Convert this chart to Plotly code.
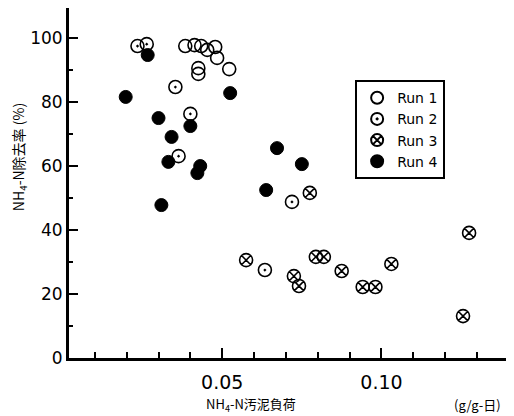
import plotly.graph_objects as go

# Data (x: NH4-N sludge loading g/g-day, y: NH4-N removal %)
run1_x = [0.0384, 0.0413, 0.0434, 0.0453, 0.0478, 0.0484, 0.0425, 0.0425, 0.0522]
run1_y = [97.5, 97.8, 97.5, 96.3, 97.2, 93.8, 90.6, 88.8, 90.3]

run2_x = [0.0234, 0.0263, 0.0353, 0.0400, 0.0363, 0.0719, 0.0634]
run2_y = [97.5, 98.1, 84.7, 76.3, 63.1, 48.8, 27.5]

run3_x = [0.0775, 0.0575, 0.0725, 0.0741, 0.0794, 0.0819, 0.0875, 0.0941, 0.0981, 0.1031, 0.1275, 0.1256]
run3_y = [51.6, 30.6, 25.6, 22.5, 31.6, 31.6, 27.2, 22.2, 22.2, 29.4, 39.1, 13.1]

run4_x = [0.0197, 0.0266, 0.0300, 0.0341, 0.0331, 0.0400, 0.0431, 0.0422, 0.0525, 0.0309, 0.0672, 0.0750, 0.0638]
run4_y = [81.6, 94.7, 75.0, 69.1, 61.3, 72.5, 60.0, 57.8, 82.8, 47.8, 65.6, 60.6, 52.5]

x_tick_vals = [0.05, 0.10]
x_tick_text = ["0.05", "0.10"]
y_tick_vals = [0, 20, 40, 60, 80, 100]
y_tick_text = ["0", "20", "40", "60", "80", "100"]

fig = go.Figure()
fig.add_trace(go.Scatter(x=run1_x, y=run1_y, mode="markers", name="Run 1",
                         marker=dict(symbol="circle-open", size=13, color="black", line=dict(width=1.6))))
fig.add_trace(go.Scatter(x=run2_x, y=run2_y, mode="markers", name="Run 2",
                         marker=dict(symbol="circle-open-dot", size=13, color="black", line=dict(width=1.6))))
fig.add_trace(go.Scatter(x=run3_x, y=run3_y, mode="markers", name="Run 3",
                         marker=dict(symbol="circle-x-open", size=13, color="black", line=dict(width=1.6))))
fig.add_trace(go.Scatter(x=run4_x, y=run4_y, mode="markers", name="Run 4",
                         marker=dict(symbol="circle", size=13, color="black", line=dict(width=1, color="black"))))

fig.update_layout(
    width=506, height=408,
    margin=dict(l=61, r=0, t=0, b=58),
    plot_bgcolor="white", paper_bgcolor="white",
    font=dict(family="DejaVu Sans", color="black"),
    showlegend=True,
    legend=dict(x=0.643, y=0.794, xanchor="left", yanchor="top",
                bordercolor="black", borderwidth=2, bgcolor="white",
                font=dict(family="DejaVu Sans", size=14, color="black"),
                itemsizing="constant", tracegroupgap=0),
)

fig.update_xaxes(
    range=[0.0019, 0.1416], automargin=False,
    showgrid=False, zeroline=False,
    showline=True, linecolor="black", linewidth=3,
    tickmode="array", tickvals=x_tick_vals, ticktext=x_tick_text,
    ticks="inside", ticklen=10, tickwidth=2, tickcolor="black",
    ticklabelstandoff=5,
    tickfont=dict(family="DejaVu Sans", size=19, color="black"),
    minor=dict(dtick=0.01, tick0=0, ticks="inside", ticklen=6, tickwidth=2, tickcolor="black"),
)
fig.update_yaxes(
    range=[0, 109.4], automargin=False,
    showgrid=False, zeroline=False,
    showline=True, linecolor="black", linewidth=3,
    tickmode="array", tickvals=y_tick_vals, ticktext=y_tick_text,
    ticks="inside", ticklen=9, tickwidth=2, tickcolor="black",
    tickfont=dict(family="DejaVu Sans", size=17, color="black"),
    minor=dict(dtick=10, tick0=0, ticks="inside", ticklen=4, tickwidth=1.5, tickcolor="black"),
)

# axis titles and unit
fig.add_annotation(text="NH<sub>4</sub>-N除去率 (%)", xref="paper", yref="paper", x=-0.1123, y=0.574,
                   xanchor="center", yanchor="middle", textangle=-90, showarrow=False,
                   font=dict(family="Noto Sans CJK JP", size=14, color="black"))
fig.add_annotation(text="NH<sub>4</sub>-N汚泥負荷", xref="paper", yref="paper", x=0.409, y=-0.132,
                   xanchor="center", yanchor="middle", showarrow=False,
                   font=dict(family="Noto Sans CJK JP", size=13, color="black"))
fig.add_annotation(text="(g/g-日)", xref="paper", yref="paper", x=0.975, y=-0.132,
                   xanchor="right", yanchor="middle", showarrow=False,
                   font=dict(family="Noto Sans CJK JP", size=13, color="black"))

fig.write_html("out.html")
